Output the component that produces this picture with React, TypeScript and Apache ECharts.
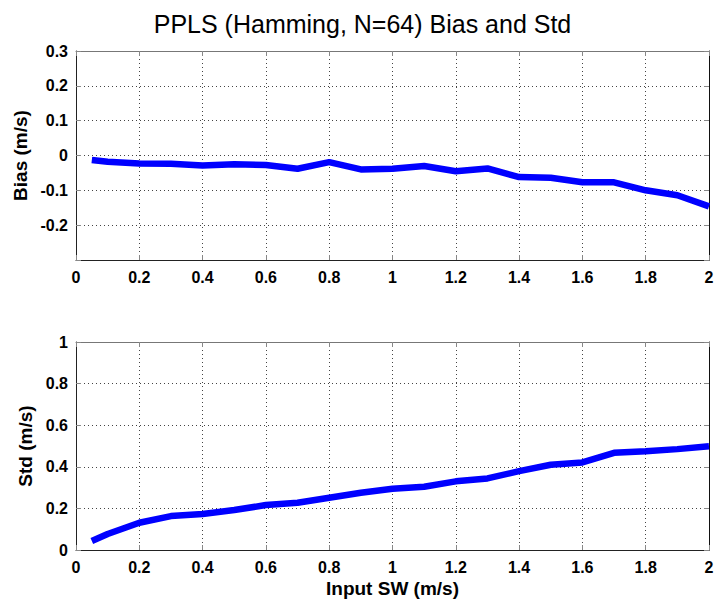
import React, { useEffect, useRef } from "react";
import * as echarts from "echarts";

const inputSW = [0.05, 0.1, 0.2, 0.3, 0.4, 0.5, 0.6, 0.7, 0.8, 0.9, 1.0, 1.1, 1.2, 1.3, 1.4, 1.5, 1.6, 1.7, 1.8, 1.9, 2.0];
const biasValues = [-0.013, -0.018, -0.023, -0.024, -0.029, -0.025, -0.027, -0.038, -0.019, -0.040, -0.038, -0.030, -0.045, -0.037, -0.062, -0.064, -0.077, -0.077, -0.100, -0.114, -0.146];
const stdValues = [0.043, 0.077, 0.131, 0.163, 0.173, 0.192, 0.216, 0.227, 0.251, 0.275, 0.294, 0.304, 0.330, 0.344, 0.379, 0.410, 0.421, 0.467, 0.475, 0.485, 0.499];

const titleText = "PPLS (Hamming, N=64) Bias and Std";
const biasName = "Bias (m/s)";
const stdName = "Std (m/s)";
const xName = "Input SW (m/s)";

const FONT = "'Liberation Sans', Arial, Helvetica, sans-serif";
const fmt = (v: number) => String(Math.round(v * 10) / 10);

export default function App() {
  const ref = useRef<HTMLDivElement>(null);
  useEffect(() => {
    if (!ref.current) return;
    const chart = echarts.init(ref.current, null, { renderer: "svg" });
    const labelStyle = { color: "#000", fontFamily: FONT, fontWeight: "bold" as const, fontSize: 16 };
    const nameStyle = { color: "#000", fontFamily: FONT, fontWeight: "bold" as const, fontSize: 19 };
    const gridLine = { show: true, lineStyle: { color: "#444", type: [1, 3] as any, width: 1 } };
    const tickIn = { show: true, inside: true, length: 5, lineStyle: { color: "#888", width: 1 } };
    const axisLine = { show: true, onZero: false, lineStyle: { color: "#222", width: 1 } };

    const mainX = (gi: number, withName: boolean) => ({
      type: "value",
      gridIndex: gi,
      min: 0,
      max: 2,
      interval: 0.2,
      position: "bottom",
      axisLine,
      axisTick: tickIn,
      splitLine: gridLine,
      axisLabel: { ...labelStyle, margin: 9, formatter: fmt },
      name: withName ? xName : "",
      nameLocation: "middle",
      nameGap: 29,
      nameTextStyle: nameStyle,
    });
    const topX = (gi: number) => ({
      type: "value",
      gridIndex: gi,
      min: 0,
      max: 2,
      interval: 0.2,
      position: "top",
      axisLine: { ...axisLine, lineStyle: { color: "#777", width: 1 } },
      axisTick: tickIn,
      splitLine: { show: false },
      axisLabel: { show: false },
    });
    const mainY = (gi: number, min: number, max: number, interval: number, name: string, hideMin: boolean) => ({
      type: "value",
      gridIndex: gi,
      min,
      max,
      interval,
      position: "left",
      axisLine,
      axisTick: tickIn,
      splitLine: gridLine,
      axisLabel: {
        ...labelStyle,
        margin: 8,
        formatter: (v: number) => (hideMin && Math.abs(v - min) < 1e-9 ? "" : fmt(v)),
      },
      name,
      nameLocation: "middle",
      nameGap: 40,
      nameTextStyle: nameStyle,
    });
    const rightY = (gi: number, min: number, max: number, interval: number) => ({
      type: "value",
      gridIndex: gi,
      min,
      max,
      interval,
      position: "right",
      axisLine: { ...axisLine, lineStyle: { color: "#111", width: 1 } },
      axisTick: tickIn,
      splitLine: { show: false },
      axisLabel: { show: false },
    });

    const lineSeries = (xi: number, yi: number, vals: number[]) => ({
      type: "line",
      xAxisIndex: xi,
      yAxisIndex: yi,
      data: inputSW.map((x, i) => [x, vals[i]]),
      showSymbol: false,
      symbol: "none",
      lineStyle: { color: "#0000ff", width: 6.5 },
      itemStyle: { color: "#0000ff" },
    });

    chart.setOption({
      animation: false,
      backgroundColor: "#fff",
      title: {
        text: titleText,
        left: "center",
        top: 6,
        textStyle: { fontFamily: FONT, fontWeight: "normal", fontSize: 25, color: "#000" },
      },
      grid: [
        { left: 76, top: 51, width: 633, height: 209 },
        { left: 76, top: 342, width: 633, height: 208 },
      ],
      xAxis: [mainX(0, false), mainX(1, true), topX(0), topX(1)],
      yAxis: [
        mainY(0, -0.3, 0.3, 0.1, biasName, true),
        mainY(1, 0, 1, 0.2, stdName, false),
        rightY(0, -0.3, 0.3, 0.1),
        rightY(1, 0, 1, 0.2),
      ],
      series: [lineSeries(0, 0, biasValues), lineSeries(1, 1, stdValues)],
    });
    return () => chart.dispose();
  }, []);
  return <div ref={ref} style={{ width: 725, height: 603, position: "absolute", left: 0, top: 0 }} />;
}
